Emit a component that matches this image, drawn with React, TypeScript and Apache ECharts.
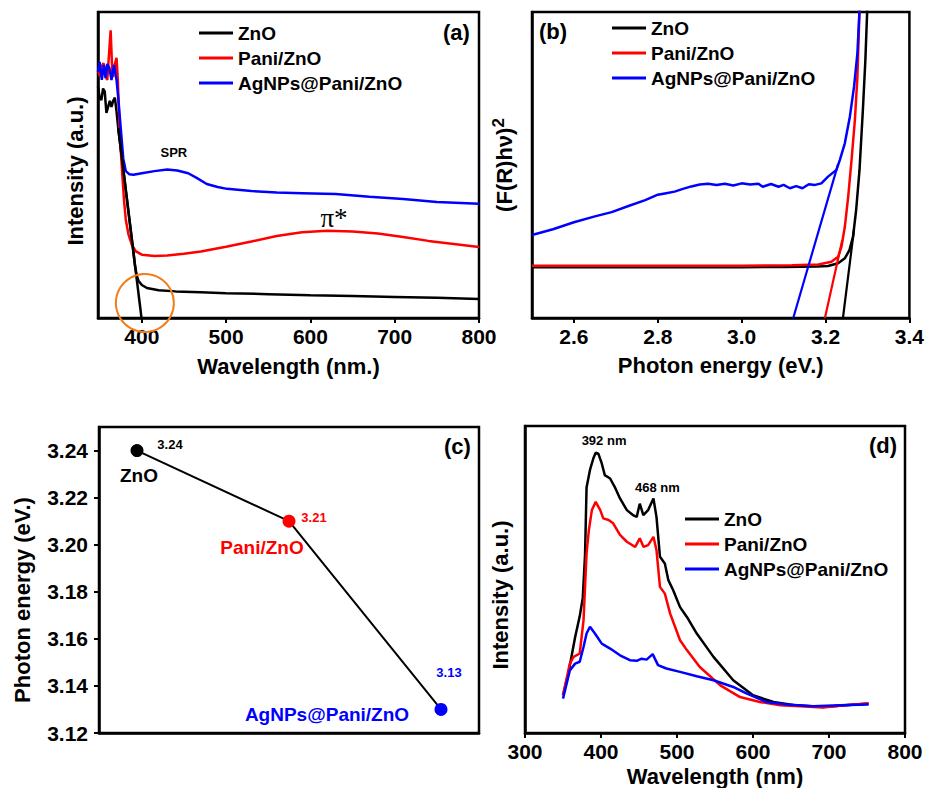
import React, { useEffect, useRef } from 'react';
import * as echarts from 'echarts';

const FONT = '"Liberation Sans", Arial, Helvetica, sans-serif';
const SERIF = '"Liberation Serif", "DejaVu Serif", serif';

const legendNames = ['ZnO', 'Pani/ZnO', 'AgNPs@Pani/ZnO'];
const seriesColors = ['#000000', '#FF0000', '#0000FF'];

// (a) UV-vis absorbance, wavelength (nm) vs intensity (a.u.)
const absZnO = [[348,75.6],[350,72],[352,71.2],[354,75],[356,74],[358,67],[360,69],[362,71],[364,69],[366,71],[368,72],[370,67.5],[372,62],[374,57.5],[378,48.5],[382,39.5],[386,30.5],[390,21.5],[392,16.8],[394,13.8],[396,12.2],[400,10.8],[406,9.8],[420,9.1],[440,8.7],[470,8.4],[500,8.1],[550,7.8],[600,7.4],[650,7.2],[700,6.9],[750,6.6],[800,6.2]];
const absPani = [[348,81],[350,79],[352,82],[354.6,83.3],[357,79],[359,77.8],[361,86],[363,94],[365,80],[366,78.8],[368,83],[370,85],[371.5,78],[373,66],[375,55],[377,46],[379,38],[381,32],[384,27.5],[388,24],[393,21.8],[400,20.7],[415,20.3],[430,20.4],[450,21],[470,21.7],[500,23.3],[530,25],[560,26.8],[590,28],[620,28.5],[650,28.3],[680,27.6],[710,26.5],[740,25.2],[770,24.2],[800,23.2]];
const absAg = [[348,80.4],[350,83.7],[352.5,77.8],[355,82.7],[357,78.4],[359,83],[361.5,81.7],[364,77.8],[367,82.7],[370,77.8],[372,72],[375,62],[378,52],[381,48],[385,47],[390,46.8],[400,47.3],[415,48],[430,48.5],[442,48.2],[455,47.3],[465,45.8],[477,43.8],[490,42.8],[501,42.2],[530,41.5],[560,41],[590,40.8],[630,40.5],[670,39.6],[710,38.9],[750,37.9],[800,37.3]];
const absZnOTangent = [[372,62.1],[399.6,0]];
const edgeCircle = [[403.6,4.9]];
const absAxisTicks = [400, 500, 600, 700, 800];
const absNotes = [
  { name: 'SPR', value: [438, 54.2] },
];
const piNote = [{ name: 'π*', value: [628, 32.7] }];

// (b) Tauc plot, photon energy (eV) vs (F(R)hv)^2
const taucZnO = [[2.5,16.6],[2.8,16.6],[3.0,16.6],[3.1,16.7],[3.18,16.8],[3.206,17],[3.23,17.9],[3.246,19.5],[3.257,22.2],[3.2656,26.6],[3.273,35.3],[3.281,48.3],[3.289,67.9],[3.295,84.3],[3.2994,100.6],[3.303,115]];
const taucPani = [[2.5,17.1],[2.8,17.1],[3.0,17.1],[3.12,17.2],[3.183,17.5],[3.214,18.4],[3.23,20],[3.238,23.3],[3.246,29.8],[3.254,39.6],[3.262,51.6],[3.27,64.7],[3.276,78.8],[3.281,100.6],[3.285,115]];
const taucAg = [[2.5,27.1],[2.55,29],[2.6,31.3],[2.65,33.2],[2.69,34.6],[2.73,36.6],[2.77,38.5],[2.8,40.3],[2.82,40.8],[2.84,41.3],[2.86,42.2],[2.88,43],[2.9,43.6],[2.92,43.9],[2.94,43.5],[2.96,43.9],[2.98,43.3],[3.0,44],[3.02,43.6],[3.04,43.9],[3.05,42.9],[3.07,43.8],[3.088,42.9],[3.1,43.5],[3.115,42.4],[3.13,43.1],[3.145,42.4],[3.16,43.7],[3.175,43.5],[3.19,44],[3.206,46.2],[3.226,48.4],[3.234,51.6],[3.246,57.1],[3.258,65.8],[3.268,75.6],[3.276,86.5],[3.281,100.6],[3.285,112]];
const taucZnOTangent = [[3.2415,0],[3.268,29]];
const taucPaniTangent = [[3.1985,0],[3.24,25.5]];
const taucAgTangent = [[3.123,0],[3.23,50.3]];
const taucAxisTicks = [2.6, 2.8, 3.0, 3.2, 3.4];

// (c) band gap energies
const materials = ['ZnO', 'Pani/ZnO', 'AgNPs@Pani/ZnO'];
const bandGaps = [3.24, 3.21, 3.13];
const gapAxisTicks = [3.12, 3.14, 3.16, 3.18, 3.20, 3.22, 3.24];

// (d) photoluminescence, wavelength (nm) vs intensity (a.u.)
const plZnO = [[350,12.3],[357,19.3],[362,26],[366,31.3],[372,38],[376,44],[379,58],[381,80],[385.5,85.7],[390,89.5],[393,91.3],[396.5,91],[401,87.8],[405,84],[412,82.9],[418,80.2],[425,76.4],[434,72.6],[442,71],[447,70.4],[451,74.7],[455.7,71],[462,72.6],[469,76.4],[473,70.4],[477.6,57.4],[484,55.2],[488.6,49.8],[495,46.5],[504,41],[513,37.8],[526,32.4],[548,24.8],[574,17.2],[600,12.3],[627,10.1],[657,9],[692,8.5],[723,9],[752,9.6]];
const plPani = [[350,12.3],[359,22.6],[364,24.8],[372,25.9],[377,36.7],[381,58.5],[384,66],[388,72.6],[393,75.3],[399,72.6],[403,69.9],[410,69.4],[416,68.3],[425,64.5],[434,62.3],[445,60.6],[451,63.4],[456,60.6],[462,61.2],[469,63.9],[473,59.6],[477.6,47.6],[484,45.4],[491,38.9],[504,30.2],[513,27],[530,21.5],[557,15.5],[583,11.7],[609,10.1],[636,9],[662,8.7],[692,8.3],[723,9.1],[752,9.6]];
const plAg = [[350,11.2],[359,20.4],[366,22.6],[372,23.2],[377,28],[381,32.4],[385.5,34.6],[392,32.4],[401,29.1],[412,27.5],[425,25.3],[438,23.7],[447,23.5],[453.5,24.2],[460,23.9],[468,25.7],[475,22.1],[486,21],[504,19.9],[526,18.5],[548,17.2],[574,15],[592,12.8],[618,10.1],[644,9.3],[679,8.7],[714,9],[752,9.3]];
const plNotes = [
  { name: '392 nm', value: [404, 95.2] },
  { name: '468 nm', value: [474.3, 80] },
];

const panelLetters = ['(a)', '(b)', '(c)', '(d)'];

const axisLineStyle = { show: true, onZero: false, lineStyle: { color: '#000', width: 2.5 } };
const tickStyle = { show: true, inside: false, length: 5, lineStyle: { color: '#000', width: 2 } };
const labelStyle = { color: '#000', fontSize: 21, fontWeight: 'bold' as const, fontFamily: FONT, margin: 8 };
const nameStyle = { color: '#000', fontSize: 22, fontWeight: 'bold' as const, fontFamily: FONT };

function lineSeries(name: string, data: number[][], color: string, idx: number, width = 2.5) {
  return {
    type: 'line', name, data, xAxisIndex: idx, yAxisIndex: idx,
    color, showSymbol: false, symbol: 'none', silent: true,
    lineStyle: { color, width }, z: 3,
  };
}

function noteSeries(data: any[], idx: number, fontSize: number, family: string, weight: string) {
  return {
    type: 'scatter', data, xAxisIndex: idx, yAxisIndex: idx, symbolSize: 1, silent: true,
    itemStyle: { color: 'transparent', opacity: 1 },
    label: {
      show: true, position: 'inside', formatter: (p: any) => p.name, color: '#000', opacity: 1,
      textBorderWidth: 0, fontSize, fontWeight: weight, fontFamily: family,
    },
  };
}

function legend(left: number, top: number) {
  return {
    left, top, orient: 'vertical', itemWidth: 34, itemHeight: 3, itemGap: 5, padding: 0,
    icon: 'rect', selectedMode: false, data: legendNames,
    textStyle: { fontSize: 19, fontWeight: 'bold', fontFamily: FONT, color: '#000', lineHeight: 20 },
  };
}

export default function App() {
  const ref = useRef<HTMLDivElement>(null);
  useEffect(() => {
    if (!ref.current) return;
    const chart = echarts.init(ref.current, undefined, { renderer: 'svg' });
    const gridBase = { show: true, borderColor: '#000', borderWidth: 2.5, backgroundColor: 'transparent', containLabel: false };
    const bandData = materials.map((m, i) => ({
      value: [i + 1, bandGaps[i]], name: m,
      itemStyle: { color: seriesColors[i] },
    }));
    const valueOffsets = [[33, -6], [25, -4], [8, -37]];
    const nameOffsets = [[2, 25], [-27, 26], [-114, 5]];
    const option: any = {
      animation: false,
      backgroundColor: '#fff',
      grid: [
        { ...gridBase, left: 98, top: 12, width: 381, height: 306 },
        { ...gridBase, left: 532, top: 12, width: 380, height: 306 },
        { ...gridBase, left: 99, top: 427, width: 380, height: 306 },
        { ...gridBase, left: 525, top: 426, width: 380, height: 307 },
      ],
      legend: [legend(199, 23), legend(612, 18), legend(685, 509)],
      xAxis: [
        {
          gridIndex: 0, type: 'value', min: 348, max: 800,
          axisLine: axisLineStyle, axisTick: { ...tickStyle, customValues: absAxisTicks },
          axisLabel: { ...labelStyle, customValues: absAxisTicks }, splitLine: { show: false },
          name: 'Wavelength (nm.)', nameLocation: 'middle', nameGap: 37, nameTextStyle: nameStyle,
        },
        {
          gridIndex: 1, type: 'value', min: 2.5, max: 3.4,
          axisLine: axisLineStyle, axisTick: { ...tickStyle, customValues: taucAxisTicks },
          axisLabel: { ...labelStyle, customValues: taucAxisTicks, formatter: (v: number) => v.toFixed(1) },
          splitLine: { show: false },
          name: 'Photon energy (eV.)', nameLocation: 'middle', nameGap: 36, nameTextStyle: nameStyle,
        },
        {
          gridIndex: 2, type: 'value', min: 0.75, max: 3.25,
          axisLine: axisLineStyle, axisTick: { show: false }, axisLabel: { show: false }, splitLine: { show: false },
        },
        {
          gridIndex: 3, type: 'value', min: 300, max: 800, interval: 100,
          axisLine: axisLineStyle, axisTick: tickStyle, axisLabel: labelStyle, splitLine: { show: false },
          name: 'Wavelength (nm)', nameLocation: 'middle', nameGap: 32, nameTextStyle: nameStyle,
        },
      ],
      yAxis: [
        {
          gridIndex: 0, type: 'value', min: 0, max: 100,
          axisLine: axisLineStyle, axisTick: { show: false }, axisLabel: { show: false }, splitLine: { show: false },
          name: 'Intensity (a.u.)', nameLocation: 'middle', nameGap: 12,
          nameTextStyle: { ...nameStyle, padding: [0, 12, 0, 0] },
        },
        {
          gridIndex: 1, type: 'value', min: 0, max: 100,
          axisLine: axisLineStyle, axisTick: { show: false }, axisLabel: { show: false }, splitLine: { show: false },
          name: '{a|(F(R)hν)}{s|2}', nameLocation: 'middle', nameGap: 13,
          nameTextStyle: {
            ...nameStyle,
            rich: {
              a: { fontSize: 22, fontWeight: 'bold', fontFamily: FONT, color: '#000' },
              s: { fontSize: 17, fontWeight: 'bold', fontFamily: FONT, color: '#000', padding: [0, 0, 12, 0] },
            },
          },
        },
        {
          gridIndex: 2, type: 'value', min: 3.12, max: 3.25,
          axisLine: axisLineStyle, axisTick: { ...tickStyle, customValues: gapAxisTicks },
          axisLabel: { ...labelStyle, margin: 11, customValues: gapAxisTicks, formatter: (v: number) => v.toFixed(2) },
          splitLine: { show: false },
          name: 'Photon energy (eV.)', nameLocation: 'middle', nameGap: 66,
          nameTextStyle: { ...nameStyle, padding: [0, 40, 0, 0] },
        },
        {
          gridIndex: 3, type: 'value', min: 0, max: 100,
          axisLine: axisLineStyle, axisTick: { show: false }, axisLabel: { show: false }, splitLine: { show: false },
          name: 'Intensity (a.u.)', nameLocation: 'middle', nameGap: 14,
          nameTextStyle: { ...nameStyle, padding: [0, 31, 0, 0] },
        },
      ],
      series: [
        // (a)
        lineSeries(legendNames[0], absZnO, seriesColors[0], 0),
        lineSeries(legendNames[1], absPani, seriesColors[1], 0),
        lineSeries(legendNames[2], absAg, seriesColors[2], 0),
        lineSeries('ZnO edge', absZnOTangent, seriesColors[0], 0, 2.5),
        {
          type: 'scatter', name: 'edge circle', data: edgeCircle, xAxisIndex: 0, yAxisIndex: 0,
          symbol: 'circle', symbolSize: 58, silent: true, z: 5,
          itemStyle: { color: 'rgba(0,0,0,0)', borderColor: '#F07F1A', borderWidth: 2, opacity: 1 },
        },
        noteSeries(absNotes, 0, 13, FONT, 'bold'),
        noteSeries(piNote, 0, 27, SERIF, 'normal'),
        // (b)
        lineSeries(legendNames[0], taucZnO, seriesColors[0], 1),
        lineSeries(legendNames[1], taucPani, seriesColors[1], 1),
        lineSeries(legendNames[2], taucAg, seriesColors[2], 1),
        lineSeries('ZnO fit', taucZnOTangent, seriesColors[0], 1, 2.2),
        lineSeries('Pani fit', taucPaniTangent, seriesColors[1], 1, 2.2),
        lineSeries('Ag fit', taucAgTangent, seriesColors[2], 1, 2.2),
        // (c)
        {
          type: 'line', name: 'band gap', xAxisIndex: 2, yAxisIndex: 2, silent: true,
          data: bandData.map((d, i) => ({
            ...d,
            label: {
              show: true, position: 'inside', offset: valueOffsets[i],
              formatter: bandGaps[i].toFixed(2), color: seriesColors[i], textBorderWidth: 0,
              fontSize: 13, fontWeight: 'bold', fontFamily: FONT,
            },
          })),
          symbol: 'circle', symbolSize: 13, showSymbol: true,
          lineStyle: { color: '#000', width: 2 }, z: 3,
        },
        {
          type: 'scatter', name: 'material names', xAxisIndex: 2, yAxisIndex: 2, silent: true,
          symbolSize: 1, itemStyle: { color: 'transparent', opacity: 1 },
          data: bandData.map((d, i) => ({
            value: d.value, name: d.name,
            label: {
              show: true, position: 'inside', offset: nameOffsets[i], formatter: d.name, opacity: 1,
              color: seriesColors[i], textBorderWidth: 0, fontSize: 19, fontWeight: 'bold', fontFamily: FONT,
            },
          })),
        },
        // (d)
        lineSeries(legendNames[0], plZnO, seriesColors[0], 3),
        lineSeries(legendNames[1], plPani, seriesColors[1], 3),
        lineSeries(legendNames[2], plAg, seriesColors[2], 3),
        noteSeries(plNotes, 3, 13, FONT, 'bold'),
      ],
      graphic: [
        { type: 'text', left: 443, top: 21, style: { text: panelLetters[0], font: `bold 22px ${FONT}`, fill: '#000' } },
        { type: 'text', left: 539, top: 20, style: { text: panelLetters[1], font: `bold 22px ${FONT}`, fill: '#000' } },
        { type: 'text', left: 444, top: 435, style: { text: panelLetters[2], font: `bold 22px ${FONT}`, fill: '#000' } },
        { type: 'text', left: 869, top: 434, style: { text: panelLetters[3], font: `bold 22px ${FONT}`, fill: '#000' } },
      ],
    };
    chart.setOption(option);
    return () => chart.dispose();
  }, []);
  return <div ref={ref} style={{ position: 'absolute', left: 0, top: 0, width: 927, height: 788, background: '#fff' }} />;
}
